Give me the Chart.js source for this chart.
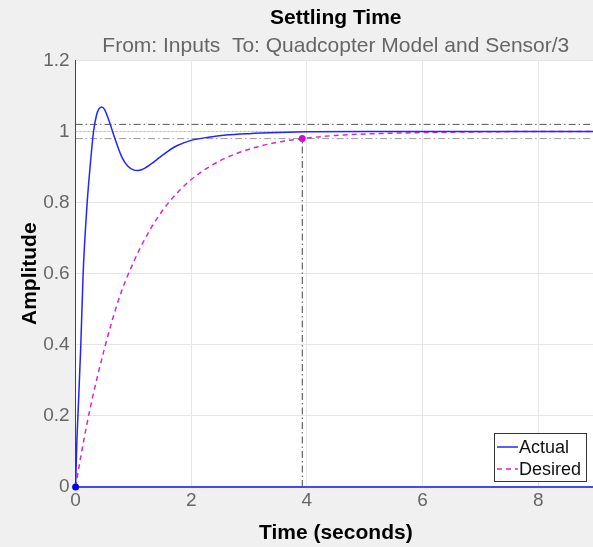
<!DOCTYPE html>
<html>
<head>
<meta charset="utf-8">
<script src="https://cdn.jsdelivr.net/npm/chart.js@4.4.1/dist/chart.umd.min.js"></script>
<style>
  html, body { margin: 0; padding: 0; background: #f0f0f0; overflow: hidden; }
  #wrap { width: 600px; height: 547px; }
</style>
</head>
<body>
<div id="wrap"><canvas id="settling"></canvas></div>
<script>
// step response
const actualTime = [0, 0.02, 0.04, 0.09, 0.13, 0.2, 0.25, 0.31, 0.36, 0.4, 0.45, 0.5, 0.55, 0.6, 0.68, 0.8, 0.9, 1.0, 1.07, 1.15, 1.3, 1.46, 1.6, 1.75, 2.0, 2.3, 2.6, 3.0, 3.5, 4.0, 5, 6, 7, 8, 9];
const actualAmp  = [0, 0.12, 0.2, 0.4, 0.6, 0.8, 0.9, 1.0, 1.045, 1.063, 1.069, 1.062, 1.043, 1.02, 0.98, 0.928, 0.903, 0.892, 0.89, 0.893, 0.908, 0.928, 0.945, 0.96, 0.975, 0.984, 0.99, 0.994, 0.997, 0.999, 1, 1, 1, 1, 1];

const desiredTime = [0, 0.1, 0.25, 0.5, 0.75, 1.0, 1.25, 1.5, 1.75, 2.0, 2.5, 3.0, 3.5, 3.92, 4.5, 5, 6, 7, 8, 9];
const desiredAmp  = [0, 0.095, 0.22, 0.39, 0.53, 0.632, 0.713, 0.777, 0.826, 0.865, 0.918, 0.95, 0.97, 0.98, 0.989, 0.993, 0.997, 0.999, 1, 1];

// settling band and settling time marker
const bandUpper = 1.02;
const bandFinal = 1.0;
const bandLower = 0.98;
const settleTime = 3.92;

const xTicks = [0, 2, 4, 6, 8];
const yTicks = [0, 0.2, 0.4, 0.6, 0.8, 1, 1.2];

const pts = (xs, ys) => xs.map((x, i) => ({ x: x, y: ys[i] }));
const hline = v => [{ x: 0, y: v }, { x: 9, y: v }];

const FONT = "'Liberation Sans', Arial, sans-serif";
const dashDot = [7, 3, 1.5, 3];

const bgPlugin = {
  id: 'bg',
  beforeDraw(chart) {
    const { ctx, chartArea: a } = chart;
    ctx.save();
    ctx.fillStyle = '#f0f0f0';
    ctx.fillRect(0, 0, chart.width, chart.height);
    ctx.fillStyle = '#ffffff';
    ctx.fillRect(a.left, a.top, a.right - a.left, a.bottom - a.top);
    ctx.restore();
  }
};

// MATLAB style legend inside the axes, bottom right
const boxLegend = {
  id: 'boxLegend',
  afterDraw(chart) {
    const { ctx, chartArea: a } = chart;
    const items = chart.data.datasets.filter(d => d.inLegend);
    const w = 92, rowH = 22, h = 48;
    const x0 = Math.min(a.right, window.innerWidth) - w - 7, y0 = a.bottom - h - 6;
    ctx.save();
    ctx.fillStyle = '#ffffff';
    ctx.fillRect(x0, y0, w, h);
    ctx.strokeStyle = '#333333';
    ctx.lineWidth = 1;
    ctx.strokeRect(x0 + 0.5, y0 + 0.5, w, h);
    ctx.font = '18px ' + FONT;
    ctx.textBaseline = 'middle';
    items.forEach((d, i) => {
      const cy = y0 + 14 + i * rowH;
      ctx.strokeStyle = d.borderColor;
      ctx.lineWidth = 1.5;
      ctx.setLineDash(d.borderDash || []);
      ctx.beginPath();
      ctx.moveTo(x0 + 3, cy);
      ctx.lineTo(x0 + 24, cy);
      ctx.stroke();
      ctx.setLineDash([]);
      ctx.fillStyle = '#111111';
      ctx.fillText(d.label, x0 + 25, cy + 1);
    });
    ctx.restore();
  }
};

new Chart(document.getElementById('settling'), {
  type: 'line',
  data: {
    datasets: [
      {
        label: 'Actual', inLegend: true, data: pts(actualTime, actualAmp),
        borderColor: '#2424ff', borderWidth: 1.5, clip: false,
        cubicInterpolationMode: 'monotone',
        pointRadius: actualTime.map(t => (t === 0 ? 3.5 : 0)),
        pointBackgroundColor: '#0000ff', pointBorderWidth: 0
      },
      {
        label: 'Desired', inLegend: true, data: pts(desiredTime, desiredAmp),
        borderColor: '#d22ad2', borderWidth: 1.5, borderDash: [5, 4], clip: false,
        cubicInterpolationMode: 'monotone',
        pointRadius: desiredTime.map(t => (t === settleTime ? 3.5 : 0)),
        pointBackgroundColor: '#cc11cc', pointBorderWidth: 0
      },
      {
        label: 'upper', data: hline(bandUpper),
        borderColor: '#555555', borderWidth: 1, borderDash: dashDot, pointRadius: 0
      },
      {
        label: 'final', data: hline(bandFinal),
        borderColor: '#bbbbbb', borderWidth: 1, borderDash: [2, 2], pointRadius: 0
      },
      {
        label: 'lower', data: hline(bandLower),
        borderColor: '#999999', borderWidth: 1, borderDash: dashDot, pointRadius: 0
      },
      {
        label: 'settle', data: [{ x: settleTime, y: 0 }, { x: settleTime, y: bandLower }],
        borderColor: '#444444', borderWidth: 1, borderDash: dashDot, pointRadius: 0
      }
    ]
  },
  options: {
    responsive: true,
    maintainAspectRatio: false,
    animation: false,
    layout: { padding: { left: 11, right: 0, top: 6, bottom: 1 } },
    plugins: {
      legend: { display: false },
      tooltip: { enabled: false },
      title: {
        display: true, text: 'Settling Time', fullSize: false,
        color: '#000000', font: { family: FONT, size: 21, weight: 'bold' },
        padding: { top: 0, bottom: 2 }
      },
      subtitle: {
        display: true, text: 'From: Inputs  To: Quadcopter Model and Sensor/3', fullSize: false,
        color: '#666666', font: { family: FONT, size: 21 },
        padding: { top: 0, bottom: 2 }
      }
    },
    scales: {
      x: {
        type: 'linear', min: 0, max: 9,
        afterBuildTicks: s => { s.ticks = xTicks.map(v => ({ value: v })); },
        ticks: { color: '#666666', font: { family: FONT, size: 19 }, padding: 2, callback: v => String(v) },
        grid: { color: '#e6e6e6', tickLength: 0 },
        border: { color: '#4646ff', width: 2 },
        title: {
          display: true, text: 'Time (seconds)', color: '#000000',
          font: { family: FONT, size: 21, weight: 'bold' }, padding: { top: 7, bottom: 0 }
        }
      },
      y: {
        min: 0, max: 1.2,
        afterBuildTicks: s => { s.ticks = yTicks.map(v => ({ value: v })); },
        ticks: { color: '#666666', font: { family: FONT, size: 19 }, padding: 6, callback: v => String(v) },
        grid: { color: '#e6e6e6', tickLength: 0 },
        border: { color: '#444444', width: 1 },
        title: {
          display: true, text: 'Amplitude', color: '#000000',
          font: { family: FONT, size: 21, weight: 'bold' }, padding: { top: 7, bottom: -6 }
        }
      }
    }
  },
  plugins: [bgPlugin, boxLegend]
});
</script>
</body>
</html>
